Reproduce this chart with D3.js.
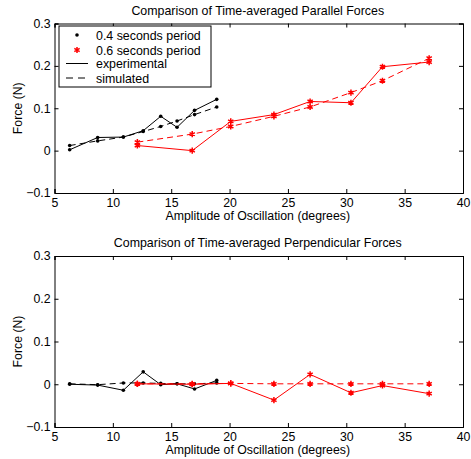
<!DOCTYPE html>
<html>
<head>
<meta charset="utf-8">
<script src="https://cdn.jsdelivr.net/npm/d3@7"></script>
<style>
body { margin: 0; background: #fff; }
text { font-family: "Liberation Sans", Arial, sans-serif; fill: #000; }
</style>
</head>
<body>
<div id="chart"></div>
<script>
// amplitudes (degrees)
var ampBlack = [6.3, 8.7, 10.9, 12.6, 14.1, 15.5, 17.0, 18.9]
var ampRed = [12.1, 16.8, 20.1, 23.8, 26.9, 30.4, 33.1, 37.1]

// parallel forces (N)
var parExpBlack = [0.002, 0.031, 0.032, 0.047, 0.081, 0.055, 0.095, 0.121]
var parSimBlack = [0.012, 0.023, 0.032, 0.045, 0.057, 0.070, 0.085, 0.103]
var parExpRed = [0.012, 0.000, 0.069, 0.085, 0.116, 0.113, 0.198, 0.209]
var parSimRed = [0.020, 0.039, 0.057, 0.081, 0.103, 0.137, 0.165, 0.218]

// perpendicular forces (N)
var perpExpBlack = [0.000, -0.002, -0.014, 0.029, -0.001, 0.001, -0.011, 0.009]
var perpSimBlack = [0.001, -0.001, 0.003, 0.003, 0.002, 0.001, 0.001, 0.003]
var perpExpRed = [0.001, 0.000, 0.002, -0.037, 0.023, -0.020, -0.003, -0.022]
var perpSimRed = [0.001, 0.001, 0.002, 0.001, 0.001, 0.001, 0.001, 0.001]

var xTicks = [5, 10, 15, 20, 25, 30, 35, 40]
var yTicks = [-0.1, 0, 0.1, 0.2, 0.3]
var legendLabels = ['0.4 seconds period', '0.6 seconds period', 'experimental', 'simulated']

var W = 471, H = 459
var svg = d3.select('#chart').append('svg')
	.attr('width', W)
	.attr('height', H)

var x0 = 54.5, x1 = 463

function yFmt(d) {
	return d == 0 ? '0' : d3.format('.1f')(d)
}

function makePanel(top, bottom, title, expB, simB, expR, simR, withLegend) {
	var xScale = d3.scaleLinear().domain([5, 40]).range([x0, x1])
	var yScale = d3.scaleLinear().domain([-0.1, 0.3]).range([bottom, top])
	var g = svg.append('g')

	// ticks on all sides, inward
	g.append('g').attr('transform', 'translate(0,' + bottom + ')')
		.call(d3.axisBottom(xScale).tickValues(xTicks).tickSize(-4).tickPadding(5).tickFormat(d3.format('d')))
	g.append('g').attr('transform', 'translate(0,' + top + ')')
		.call(d3.axisTop(xScale).tickValues(xTicks).tickSize(-4).tickFormat(''))
	g.append('g').attr('transform', 'translate(' + x0 + ',0)')
		.call(d3.axisLeft(yScale).tickValues(yTicks).tickSize(-4).tickPadding(4).tickFormat(yFmt))
	g.append('g').attr('transform', 'translate(' + x1 + ',0)')
		.call(d3.axisRight(yScale).tickValues(yTicks).tickSize(-4).tickFormat(''))

	g.selectAll('.domain').attr('stroke', '#000').attr('stroke-width', 1)
	g.selectAll('.tick line').attr('stroke', '#000')
	g.selectAll('.tick text').attr('font-size', 12.3).attr('font-family', '"Liberation Sans", Arial, sans-serif')

	g.append('text')
		.attr('x', (x0 + x1) / 2 - 1).attr('y', top - 9)
		.attr('text-anchor', 'middle').attr('font-size', 12.4)
		.text(title)
	g.append('text')
		.attr('x', (x0 + x1) / 2 - 1).attr('y', bottom + 26.5)
		.attr('text-anchor', 'middle').attr('font-size', 12.3)
		.text('Amplitude of Oscillation (degrees)')
	g.append('text')
		.attr('transform', 'translate(' + 22 + ',' + ((top + bottom) / 2) + ') rotate(-90)')
		.attr('text-anchor', 'middle').attr('font-size', 12.3)
		.text('Force (N)')

	var line = d3.line()
		.x(function(d) { return xScale(d[0]) })
		.y(function(d) { return yScale(d[1]) })

	function series(xs, ys, color, dashed, marker) {
		var pts = xs.map(function(v, i) { return [v, ys[i]] })
		g.append('path').datum(pts)
			.attr('d', line)
			.attr('fill', 'none')
			.attr('stroke', color)
			.attr('stroke-width', 1)
			.attr('stroke-dasharray', dashed ? '6,4' : null)
		if (marker == 'dot') {
			g.selectAll(null).data(pts).enter().append('circle')
				.attr('cx', function(d) { return xScale(d[0]) })
				.attr('cy', function(d) { return yScale(d[1]) })
				.attr('r', 1.8)
				.attr('fill', color)
		} else {
			g.selectAll(null).data(pts).enter().append('path')
				.attr('d', d3.symbol(d3.symbolAsterisk, 26))
				.attr('transform', function(d) { return 'translate(' + xScale(d[0]) + ',' + yScale(d[1]) + ')' })
				.attr('fill', 'none')
				.attr('stroke', color)
				.attr('stroke-width', 1.5)
		}
	}

	series(ampBlack, expB, '#000', false, 'dot')
	series(ampBlack, simB, '#000', true, 'dot')
	series(ampRed, expR, '#f00', false, 'star')
	series(ampRed, simR, '#f00', true, 'star')

	if (withLegend) {
		var lg = g.append('g')
		lg.append('rect')
			.attr('x', 59).attr('y', 26).attr('width', 152).attr('height', 61)
			.attr('fill', '#fff').attr('stroke', '#000').attr('stroke-width', 1)
		var rows = [35, 50, 63.5, 78]
		legendLabels.forEach(function(lab, i) {
			var yy = rows[i]
			if (i == 0) {
				lg.append('circle').attr('cx', 77).attr('cy', yy).attr('r', 1.8).attr('fill', '#000')
			} else if (i == 1) {
				lg.append('path').attr('d', d3.symbol(d3.symbolAsterisk, 26))
					.attr('transform', 'translate(77,' + yy + ')')
					.attr('fill', 'none').attr('stroke', '#f00').attr('stroke-width', 1.5)
			} else {
				lg.append('line').attr('x1', 66).attr('x2', 88).attr('y1', yy).attr('y2', yy)
					.attr('stroke', '#000').attr('stroke-width', 1)
					.attr('stroke-dasharray', i == 3 ? '7,5' : null)
			}
			lg.append('text').attr('x', 96).attr('y', yy + 4.5)
				.attr('font-size', 12.4).text(lab)
		})
	}
}

makePanel(23.5, 193, 'Comparison of Time-averaged Parallel Forces',
	parExpBlack, parSimBlack, parExpRed, parSimRed, true)
makePanel(256, 427, 'Comparison of Time-averaged Perpendicular Forces',
	perpExpBlack, perpSimBlack, perpExpRed, perpSimRed, false)
</script>
</body>
</html>
